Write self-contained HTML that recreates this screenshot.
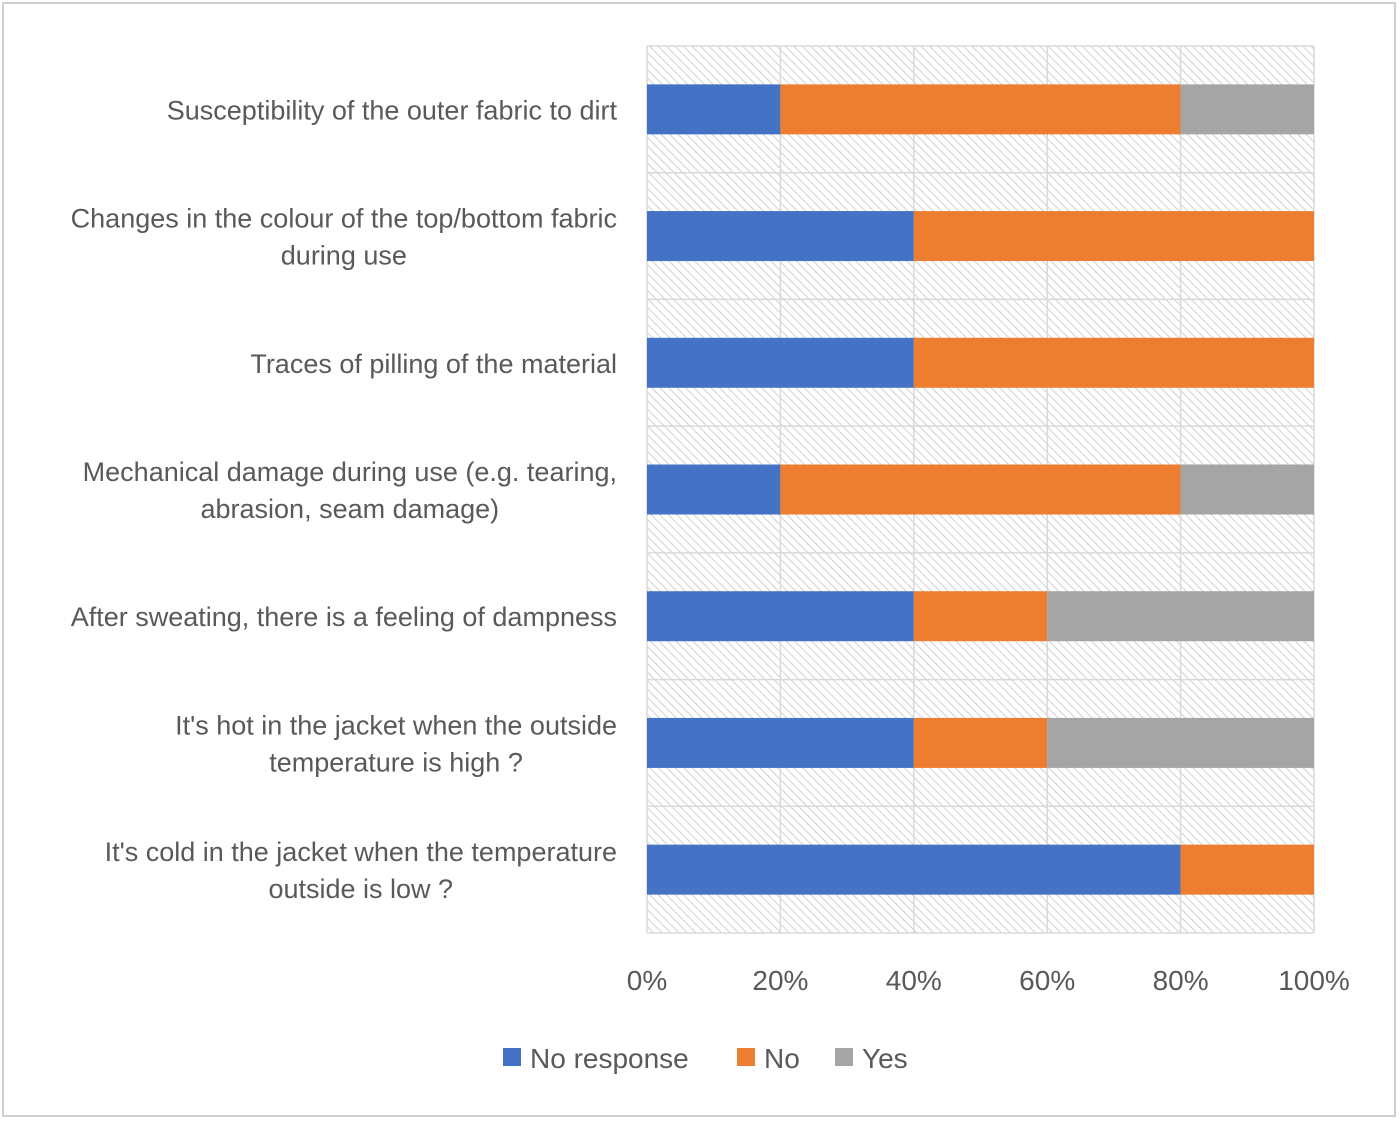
<!DOCTYPE html>
<html><head><meta charset="utf-8"><style>
body{margin:0;background:#fff;}
svg{display:block;font-family:"Liberation Sans",sans-serif;}
</style></head><body>
<svg id="chart" width="1400" height="1121" viewBox="0 0 1400 1121">
<defs>
<pattern id="hatch" patternUnits="userSpaceOnUse" width="6" height="6" patternTransform="rotate(-45)">
<rect width="6" height="6" fill="#fff"/>
<line x1="0" y1="0" x2="0" y2="6" stroke="#d4d4d4" stroke-width="2.2"/>
</pattern>
</defs>
<rect x="3" y="3" width="1392" height="1113" fill="#fff" stroke="#d0d0d0" stroke-width="2"/>
<rect x="647" y="46" width="667" height="887" fill="url(#hatch)"/>
<g id="grid"></g><g id="bars"></g><g id="ylabels"></g><g id="xlabels"></g>
<g>
<rect x="503" y="1048" width="18" height="18" fill="#4472c4"/>
<text x="530" y="1068" font-size="28" fill="#595959">No response</text>
<rect x="737" y="1048" width="18" height="18" fill="#ed7d31"/>
<text x="764" y="1068" font-size="28" fill="#595959">No</text>
<rect x="835" y="1048" width="18" height="18" fill="#a5a5a5"/>
<text x="862" y="1068" font-size="28" fill="#595959">Yes</text>
</g>
</svg>
<script>
const categories=[["Susceptibility of the outer fabric to dirt"],["Changes in the colour of the top/bottom fabric","during use"],["Traces of pilling of the material"],["Mechanical damage during use (e.g. tearing,","abrasion, seam damage)"],["After sweating, there is a feeling of dampness"],["It's hot in the jacket when the outside","temperature is high ?"],["It's cold in the jacket when the temperature","outside is low ?"]];
const noResponse=[20,40,40,20,40,40,80];
const no=[60,60,60,60,20,20,20];
const yes=[20,0,0,20,40,40,0];
const ticks=[0,20,40,60,80,100];
const tickLabels=["0%","20%","40%","60%","80%","100%"];
const NS="http://www.w3.org/2000/svg";
const X0=647,X1=1314,Y0=46,Y1=933;
const x=v=>X0+(X1-X0)*v/100;
const band=(Y1-Y0)/categories.length;
const yc=i=>Y0+band*(i+0.5);
function mk(t,a,p){const e=document.createElementNS(NS,t);for(const k in a)e.setAttribute(k,a[k]);p.appendChild(e);return e;}
const grid=document.getElementById('grid'),bars=document.getElementById('bars'),yl=document.getElementById('ylabels'),xl=document.getElementById('xlabels');
ticks.forEach((t,i)=>{
 const l=mk('line',{x1:x(t),x2:x(t),y1:Y0,y2:Y1,stroke:'#d9d9d9','stroke-width':1.5},grid);
 
 
 const tx=mk('text',{x:x(t),y:990,'font-size':28,fill:'#595959','text-anchor':'middle'},xl);
 tx.textContent=tickLabels[i];
 
 
});
for(let i=0;i<=categories.length;i++){
 const l=mk('line',{x1:X0,x2:X1,y1:Y0+band*i,y2:Y0+band*i,stroke:'#d9d9d9','stroke-width':1.5},grid);
 
 
}
const series=[[noResponse,'#4472c4','no-response'],[no,'#ed7d31','no'],[yes,'#a5a5a5','yes']];
categories.forEach((c,i)=>{
 let acc=0;
 series.forEach(([arr,col,nm])=>{
  const v=arr[i];
  if(v>0){
   const r=mk('rect',{x:x(acc),y:yc(i)-25,width:x(acc+v)-x(acc),height:50,fill:col},bars);
   
   
  }
  acc+=v;
 });
 const n=c.length;
 c.forEach((line,j)=>{
  const yy=yc(i)+10+(j-(n-1)/2)*37;
  const tx=mk('text',{y:yy,'font-size':27,fill:'#595959','text-anchor':n>1&&j>0?'middle':'end',x:n>1&&j>0?0:617},yl);
  tx.textContent=line;
  
  
 });
 if(n>1){
  const els=yl.querySelectorAll('text');const first=els[els.length-2],second=els[els.length-1];
  const b=first.getBBox();second.setAttribute('x',b.x+b.width/2);
 }
});
</script>
</body></html>
